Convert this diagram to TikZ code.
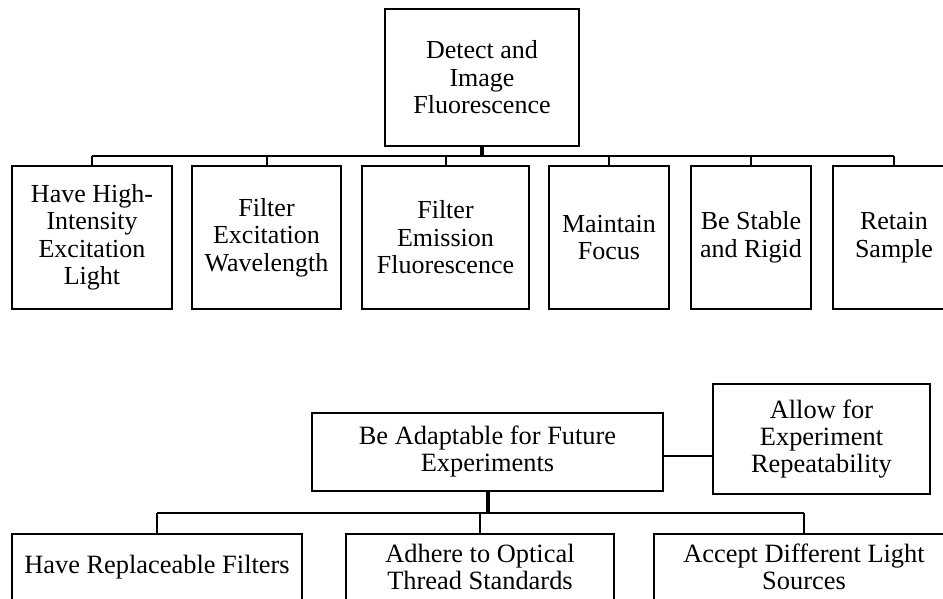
\documentclass[tikz,border=0pt]{standalone}
\usepackage{fontspec}
\setmainfont{Liberation Serif}
\usepackage{tikz}
\usetikzlibrary{positioning, calc}

\tikzset{
  fnbox/.style={draw=black, line width=1pt, fill=white, align=center, inner sep=2pt},
  topfont/.style={font=\fontsize{13}{13.75}\selectfont},
  lowfont/.style={font=\fontsize{13.2}{13.5}\selectfont},
  busline/.style={line width=1pt},
  trunk/.style={line width=2pt}
}

\begin{document}
\begin{tikzpicture}[x=0.5pt, y=-0.5pt]
    \useasboundingbox (0,0) rectangle (943,599);
    \clip (0,0) rectangle (943,599);

    % upper tree
    \node[fnbox, topfont, minimum width=97pt, minimum height=68.5pt] (detect) at (482,77.5) {Detect and\\Image\\Fluorescence};

    \node[fnbox, topfont, minimum width=80pt, minimum height=71.5pt] (light) at (92,237.5) {Have High-\\Intensity\\Excitation\\Light};
    \node[fnbox, topfont, minimum width=74.5pt, minimum height=71.5pt] (exfilt) at (266.5,237.5) {Filter\\Excitation\\Wavelength};
    \node[fnbox, topfont, minimum width=83.5pt, minimum height=71.5pt] (emfilt) at (445.5,237.5) {Filter\\Emission\\Fluorescence};
    \node[fnbox, topfont, minimum width=60pt, minimum height=71.5pt] (focus) at (609,237.5) {Maintain\\Focus};
    \node[fnbox, topfont, minimum width=60pt, minimum height=71.5pt] (stable) at (751,237.5) {Be Stable\\and Rigid};
    \node[fnbox, topfont, minimum width=61pt, minimum height=71.5pt] (retain) at (894,237.5) {Retain\\Sample};

    \coordinate (topbus) at (0,156);
    \draw[trunk] (detect.south) -- (detect.south |- topbus);
    \draw[busline] (light.north |- topbus) -- (retain.north |- topbus);
    \foreach \n in {light, exfilt, emfilt, focus, stable, retain}
        \draw[busline] (\n.north) -- (\n.north |- topbus);

    % lower tree
    \node[fnbox, lowfont, minimum width=175.5pt, minimum height=39pt] (adapt) at (487.5,452) {Be Adaptable for Future\\Experiments};
    \node[fnbox, lowfont, minimum width=108.5pt, minimum height=55pt] (repeatab) at (821.5,439) {Allow for\\Experiment\\Repeatability};

    \node[fnbox, lowfont, minimum width=145pt, minimum height=33pt] (filters) at (157,567) {Have Replaceable Filters};
    \node[fnbox, lowfont, minimum width=134pt, minimum height=33pt] (thread) at (480,567) {Adhere to Optical\\Thread Standards};
    \node[fnbox, lowfont, minimum width=150pt, minimum height=33pt] (sources) at (804,567) {Accept Different Light\\Sources};

    \coordinate (link) at ($(adapt.east)+(0,4)$);
    \draw[busline] (link) -- (link -| repeatab.west);

    \coordinate (lowbus) at (0,513);
    \draw[trunk] (adapt.south) -- (adapt.south |- lowbus);
    \draw[busline] (filters.north |- lowbus) -- (sources.north |- lowbus);
    \foreach \n in {filters, thread, sources}
        \draw[busline] (\n.north) -- (\n.north |- lowbus);
\end{tikzpicture}
\end{document}
